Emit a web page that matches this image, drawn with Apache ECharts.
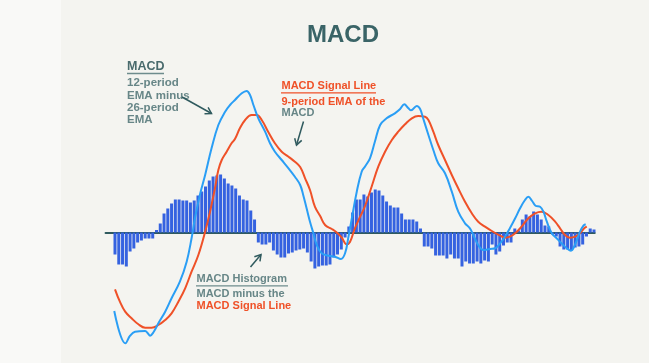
<!DOCTYPE html>
<html>
<head>
<meta charset="utf-8">
<script src="https://cdn.jsdelivr.net/npm/echarts@6/dist/echarts.min.js"></script>
<style>html,body{margin:0;padding:0;background:#f4f4f0;}#c{width:649px;height:363px;}</style>
</head>
<body>
<div id="c"></div>
<script>
// Histogram (MACD minus signal), one value per period
const histValues = [
  -22, -32, -32, -34, -19, -16, -10, -8, -6, -6, -6,
  2.5, 9, 19, 24, 29, 33, 33, 32, 32, 30, 32, 37, 41, 46, 52, 56, 57, 58, 54, 49, 47, 44, 37, 33, 32, 22, 13,
  -10, -12, -12, -10, -18, -22, -25, -25, -21, -20, -18, -17, -16, -20, -29, -36, -34, -33, -33, -32, -25, -22, -17, -5,
  6, 20, 33, 33, 38, 36, 40, 43, 42, 37, 31, 27, 25, 25, 19, 13, 13, 13, 11, 4,
  -14, -14, -16, -23, -23, -23, -26, -22, -26, -26, -34, -29, -31, -31, -29, -31, -28, -29, -12, -22, -19, -13, -10, -10,
  4, 2, 13, 18, 16, 21, 18, 13, 7, 6,
  -2, -4, -14, -17, -17, -18, -15, -14, -12, -4,
  4, 3
];
const periods = histValues.map((v, i) => i);

// MACD line (period position, value)
const macdX = [-0.2, 2.8, 4.0, 5.3, 8.0, 8.7, 9.3, 10.2, 11.5, 13.3, 15.0, 17.2, 19.0, 20.3, 21.2, 22.5, 23.9, 25.6, 27.4, 29.2, 30.5, 31.8, 33.6, 34.9, 35.8, 36.7, 38.0, 39.8, 41.1, 42.4, 44.2, 46.0, 47.7, 49.1, 49.9, 50.8, 51.7, 52.6, 53.5, 54.8, 56.6, 58.3, 59.9, 61.0, 61.9, 62.8, 64.1, 65.4, 66.3, 67.6, 68.9, 70.3, 72.0, 74.2, 75.6, 76.7, 77.8, 78.5, 80.0, 80.9, 81.7, 83.1, 84.4, 85.7, 87.5, 89.3, 91.0, 92.8, 94.1, 95.0, 96.3, 97.7, 99.4, 100.8, 102.1, 103.4, 104.7, 106.1, 107.4, 108.7, 109.6, 110.6, 111.5, 112.7, 113.6, 114.5, 115.8, 117.1, 118.4, 119.8, 120.9, 122.0, 123.3, 124.2, 124.8];
const macdY = [-78.5, -110.8, -103.2, -99.2, -98.5, -100.8, -103.2, -99.8, -90.8, -79.2, -65.8, -49.2, -29.2, -5.8, 14.2, 37.5, 57.5, 84.2, 107.5, 120.8, 127.5, 132.5, 139.2, 141.5, 137.5, 127.5, 114.2, 100.8, 89.2, 80.8, 72.5, 64.2, 55.8, 47.5, 37.5, 24.2, 10.8, -0.8, -12.5, -20.8, -23.2, -24.2, -26.5, -20.8, -4.2, 14.2, 40.8, 60.8, 66.0, 74.2, 90.8, 107.5, 114.2, 119.2, 123.5, 128.2, 124.2, 122.2, 126.5, 123.5, 114.2, 97.5, 82.5, 69.2, 59.2, 40.8, 20.8, 9.2, 4.2, -2.5, -12.5, -17.5, -16.5, -15.8, -10.8, -4.2, 4.2, 14.2, 24.2, 32.5, 35.8, 31.5, 26.8, 25.8, 20.8, 10.8, -0.8, -5.8, -10.8, -15.8, -18.2, -11.8, 0.8, 6.8, 8.2];

// Signal line (9-period EMA of MACD)
const signalX = [0, 1.3, 2.7, 4.4, 6.2, 8.0, 9.7, 11.5, 13.3, 15.0, 16.8, 18.6, 20.3, 22.1, 23.9, 25.2, 26.5, 27.4, 28.3, 29.6, 30.9, 31.8, 33.1, 34.5, 36.2, 37.6, 38.9, 40.6, 42.4, 44.2, 46.0, 47.7, 49.1, 50.4, 51.7, 53.0, 54.4, 55.7, 57.5, 58.8, 60.1, 61.4, 62.3, 63.6, 65.0, 66.3, 68.1, 69.8, 71.6, 73.4, 75.1, 76.9, 78.7, 80.4, 82.2, 83.1, 84.4, 85.7, 87.5, 89.3, 91.0, 92.8, 94.6, 96.3, 98.1, 99.9, 102.1, 103.4, 104.7, 106.1, 107.8, 109.6, 111.4, 113.1, 114.9, 116.7, 118.0, 119.3, 120.6, 122.0, 123.3, 124.4, 125.1];
const signalY = [-56.8, -69.2, -79.2, -85.8, -91.8, -95.2, -95.2, -92.5, -87.5, -80.8, -69.2, -55.8, -39.2, -22.5, 0.8, 20.8, 44.2, 62.5, 72.5, 80.8, 89.2, 93.5, 104.2, 112.5, 117.5, 117.5, 112.5, 100.8, 89.2, 80.8, 75.8, 70.8, 65.5, 54.2, 42.5, 25.8, 16.5, 7.5, 3.5, 0, -5, -11.8, -9.5, 4.2, 15.8, 26.5, 46.5, 65.8, 80.8, 92.5, 100.8, 108.2, 114.2, 116.5, 115.8, 112.5, 100.8, 87.5, 72.5, 57.5, 44.2, 30.8, 19.2, 10.8, 5.8, 1.5, -3.2, -5.2, -4.2, -0.8, 5.8, 14.2, 19.2, 20.8, 17.5, 10.8, 4.2, -2.5, -5.2, -4.2, -0.8, 4.2, 5.8];

const macdData = macdX.map((x, i) => [x, macdY[i]]);
const signalData = signalX.map((x, i) => [x, signalY[i]]);
const histData = periods.map((p, i) => [p, histValues[i]]);

const chart = echarts.init(document.getElementById('c'), null, {renderer: 'canvas'});

const TEAL = '#2f5a5e';
const GREY = '#678687';
const HEAD = '#4a6b6d';
const RED = '#ef5128';
const FONT = '"Liberation Sans", Arial, sans-serif';

function txt(text, x, y, size, color, weight) {
  return {
    type: 'text', x: x, y: y, z: 20,
    style: {text: text, fill: color, font: (weight || 'bold') + ' ' + size + 'px ' + FONT,
      textAlign: 'left', textVerticalAlign: 'middle', align: 'left', verticalAlign: 'middle'}
  };
}
function uline(x1, x2, y, color) {
  return {type: 'line', z: 20, shape: {x1: x1, y1: y, x2: x2, y2: y}, style: {stroke: color, lineWidth: 1.3}};
}
function arrow(x1, y1, x2, y2) {
  const a = Math.atan2(y2 - y1, x2 - x1), L = 7, w = 0.55;
  return [
    {type: 'line', z: 20, shape: {x1: x1, y1: y1, x2: x2, y2: y2}, style: {stroke: TEAL, lineWidth: 1.5}},
    {type: 'polyline', z: 20, shape: {points: [
      [x2 - L * Math.cos(a - w), y2 - L * Math.sin(a - w)], [x2, y2],
      [x2 - L * Math.cos(a + w), y2 - L * Math.sin(a + w)]]},
      style: {stroke: TEAL, lineWidth: 1.5, fill: null}}
  ];
}

const graphics = [
  {type: 'rect', z: -10, shape: {x: 0, y: 0, width: 61, height: 363}, style: {fill: '#f9f9f7'}},
  {type: 'text', x: 343, y: 35, z: 20, style: {text: 'MACD', fill: '#3a6467', font: 'bold 24px ' + FONT,
    textAlign: 'center', textVerticalAlign: 'middle', align: 'center', verticalAlign: 'middle'}},
  txt('MACD', 127, 66.5, 12.5, HEAD),
  uline(127, 164, 73.5, '#6e8c8d'),
  txt('12-period', 127, 83.2, 11.5, GREY),
  txt('EMA minus', 127, 95.6, 11.5, GREY),
  txt('26-period', 127, 107.9, 11.5, GREY),
  txt('EMA', 127, 120, 11.5, GREY),
  txt('MACD Signal Line', 281.5, 86, 11, RED),
  uline(281, 376, 92.8, RED),
  txt('9-period EMA of the', 281.5, 102.2, 11, RED),
  txt('MACD', 281.5, 113.2, 11, GREY),
  txt('MACD Histogram', 196.5, 279.3, 11, GREY),
  uline(196, 288, 285.8, '#6e8c8d'),
  txt('MACD minus the', 196.5, 293.8, 11, GREY),
  txt('MACD Signal Line', 196.5, 306.3, 11, RED)
].concat(arrow(182, 97, 211.5, 113.5), arrow(303.5, 121.5, 296.5, 145), arrow(250.5, 267, 261, 254.5));

chart.setOption({
  backgroundColor: '#f4f4f0',
  animation: false,
  graphic: graphics,
  grid: {left: 105.57, width: 489.18, top: 82.5, height: 280, containLabel: false},
  xAxis: {
    type: 'value', min: -2.5, max: 127.2,
    axisLine: {show: true, onZero: true, lineStyle: {color: TEAL, width: 2}},
    axisTick: {show: false}, axisLabel: {show: false}, splitLine: {show: false}
  },
  yAxis: {
    type: 'value', min: -130, max: 150,
    axisLine: {show: false}, axisTick: {show: false}, axisLabel: {show: false}, splitLine: {show: false}
  },
  series: [
    {type: 'bar', name: 'MACD Histogram', data: histData, barWidth: 3, clip: false,
      itemStyle: {color: '#3562e0'}, z: 2},
    {type: 'line', name: 'Signal', data: signalData, smooth: 0.4, showSymbol: false, clip: false,
      lineStyle: {color: RED, width: 2}, z: 3},
    {type: 'line', name: 'MACD', data: macdData, smooth: 0.4, showSymbol: false, clip: false,
      lineStyle: {color: '#2a9ef5', width: 2}, z: 4}
  ]
});
</script>
</body>
</html>
